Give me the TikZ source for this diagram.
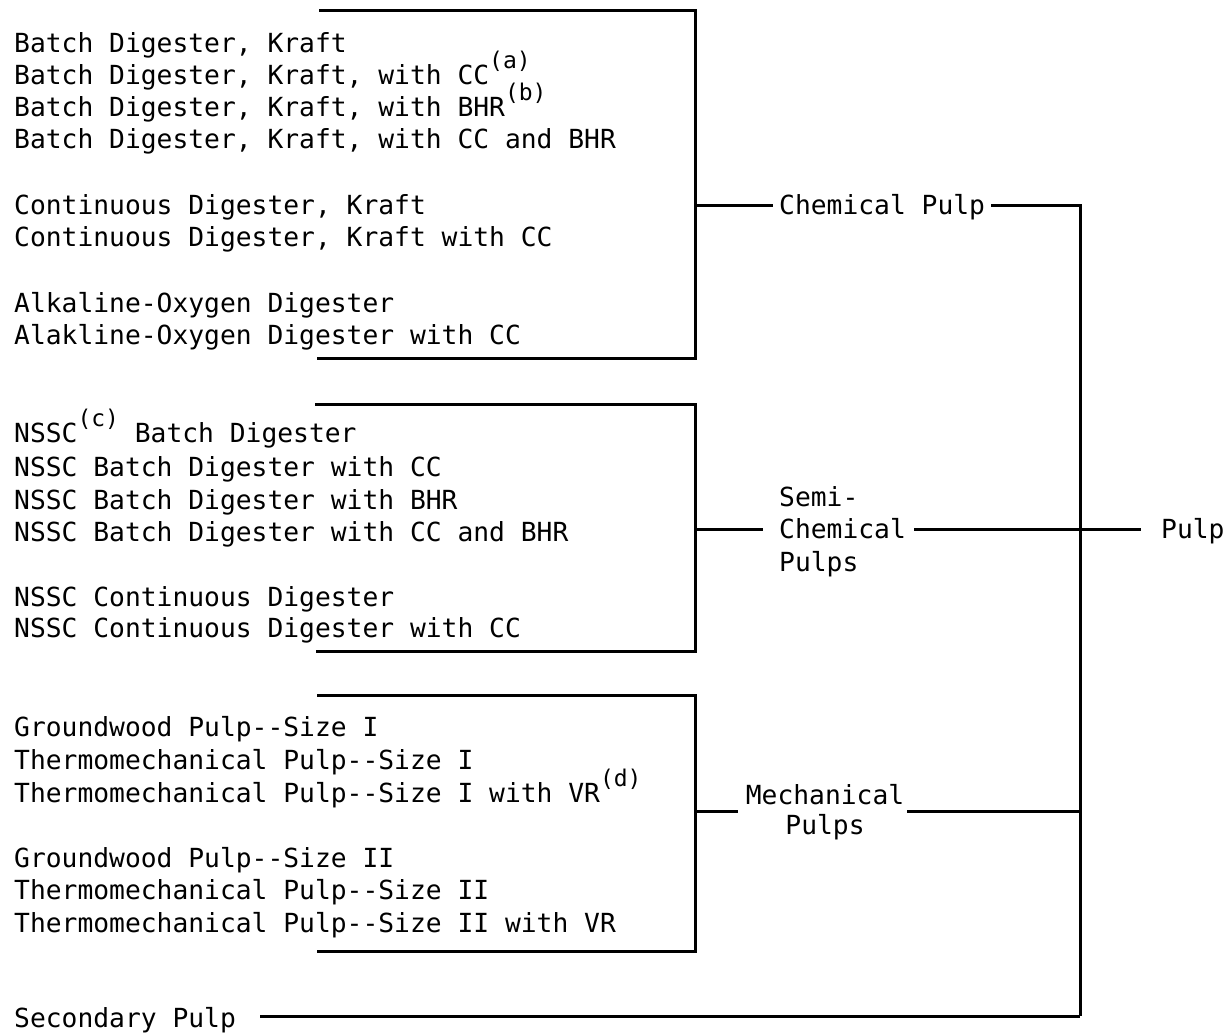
\documentclass[tikz,border=0pt]{standalone}
\usepackage{fontspec}
\newfontfamily\monof{DejaVu Sans Mono}
\newcommand\supx[1]{\raisebox{16pt}{\fontsize{23}{23}\selectfont #1}}
\begin{document}
\begin{tikzpicture}[x=1pt,y=-1pt,
  txt/.style={inner sep=0pt, font=\monof\fontsize{26.3}{32.5}\selectfont},
  item/.style={txt, anchor=base west},
  lab/.style={txt, text height=19.2pt, text depth=0pt},
  bracket/.style={line width=3pt, line cap=rect},
  conn/.style={line width=3pt}]
\useasboundingbox[fill=white] (0,0) rectangle (1231,1034);

% ---- group 1: chemical pulp ----
\node[item] (c1) at (14,52.6) {Batch Digester, Kraft};
\node[item] (c2) at (14,84.6) {Batch Digester, Kraft, with CC\supx{(a)}};
\node[item] (c3) at (14,116.6) {Batch Digester, Kraft, with BHR\supx{(b)}};
\node[item] (c4) at (14,148.6) {Batch Digester, Kraft, with CC and BHR};
\node[item] (c5) at (14,214.6) {Continuous Digester, Kraft};
\node[item] (c6) at (14,246.6) {Continuous Digester, Kraft with CC};
\node[item] (c7) at (14,312.6) {Alkaline-Oxygen Digester};
\node[item] (c8) at (14,344.6) {Alakline-Oxygen Digester with CC};

% ---- group 2: semi-chemical ----
\node[item] (s1) at (14,442.6) {NSSC\supx{(c)} Batch Digester};
\node[item] (s2) at (14,476.6) {NSSC Batch Digester with CC};
\node[item] (s3) at (14,509.6) {NSSC Batch Digester with BHR};
\node[item] (s4) at (14,541.6) {NSSC Batch Digester with CC and BHR};
\node[item] (s5) at (14,606.6) {NSSC Continuous Digester};
\node[item] (s6) at (14,637.6) {NSSC Continuous Digester with CC};

% ---- group 3: mechanical ----
\node[item] (m1) at (14,736.6) {Groundwood Pulp--Size I};
\node[item] (m2) at (14,769.6) {Thermomechanical Pulp--Size I};
\node[item] (m3) at (14,802.6) {Thermomechanical Pulp--Size I with VR\supx{(d)}};
\node[item] (m4) at (14,867.6) {Groundwood Pulp--Size II};
\node[item] (m5) at (14,899.6) {Thermomechanical Pulp--Size II};
\node[item] (m6) at (14,932.6) {Thermomechanical Pulp--Size II with VR};

\node[lab, anchor=west] (sec) at (14,1018) {Secondary Pulp};

% ---- brackets ----
\coordinate (b1a) at (320,10);  \coordinate (b1b) at (695,10);
\coordinate (b1c) at (695,358); \coordinate (b1d) at (318,358);
\coordinate (b1m) at (695,205);
\coordinate (b2a) at (316,404); \coordinate (b2b) at (695,404);
\coordinate (b2c) at (695,651); \coordinate (b2d) at (317,651);
\coordinate (b2m) at (695,529);
\coordinate (b3a) at (318,695); \coordinate (b3b) at (695,695);
\coordinate (b3c) at (695,951); \coordinate (b3d) at (318,951);
\coordinate (b3m) at (695,811);

\draw[bracket] (b1a) -- (b1b) -- (b1c) -- (b1d);
\draw[bracket] (b2a) -- (b2b) -- (b2c) -- (b2d);
\draw[bracket] (b3a) -- (b3b) -- (b3c) -- (b3d);

% ---- group labels ----
\node[lab, anchor=west] (chem) at (779,205) {Chemical Pulp};
\node[txt, align=left, anchor=west] (semi) at (779,531.5) {Semi-\\Chemical\\Pulps};
\node[txt, align=center, font=\monof\fontsize{26.3}{30}\selectfont] (mech) at (825,812.6) {Mechanical\\Pulps};
\node[lab, anchor=west] (pulp) at (1161,529) {Pulp};

% ---- trunk ----
\coordinate (tTop) at (1080,205);
\coordinate (tSemi) at (1080,529);
\coordinate (tMech) at (1080,811);
\coordinate (tBot) at (1080,1016);

% ---- connectors ----
\draw[conn] (b1m) -- ([xshift=-6pt]chem.west);
\draw[conn] ([xshift=6pt]chem.east) -- (tTop) -- (tBot);
\draw[conn] (b2m) -- ([xshift=-16pt]semi.west |- b2m);
\draw[conn] ([xshift=8pt]semi.east |- b2m) -- (tSemi) -- ([xshift=-20pt]pulp.west);
\draw[conn] (b3m) -- ([xshift=-8pt]mech.west |- b3m);
\draw[conn] ([xshift=3pt]mech.east |- b3m) -- (tMech);
\draw[conn] ([xshift=24pt]sec.east |- tBot) -- (tBot);
\end{tikzpicture}
\end{document}
